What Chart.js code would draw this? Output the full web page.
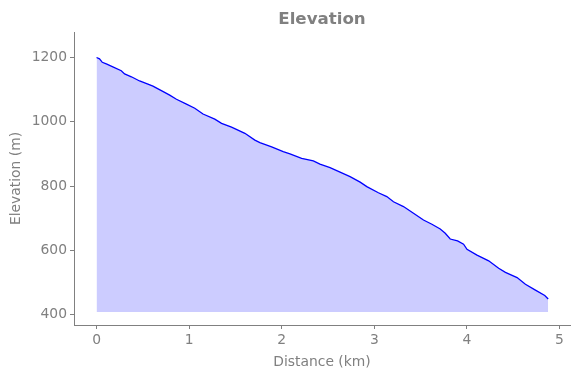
<!DOCTYPE html>
<html>
<head>
<meta charset="utf-8">
<script src="https://cdn.jsdelivr.net/npm/chart.js@4/dist/chart.umd.min.js"></script>
<style>
html,body{margin:0;padding:0;background:#fff;}
#wrap{width:580px;height:378px;position:relative;}
</style>
</head>
<body>
<div id="wrap"><canvas id="c" width="580" height="378"></canvas></div>
<script>
const distanceKm = [0.0,0.032,0.062,0.105,0.176,0.267,0.303,0.376,0.465,0.555,0.609,0.700,0.790,0.863,0.971,1.061,1.150,1.277,1.350,1.458,1.602,1.710,1.764,1.891,2.016,2.089,2.215,2.341,2.413,2.522,2.630,2.738,2.847,2.919,3.044,3.135,3.207,3.315,3.423,3.531,3.622,3.712,3.766,3.820,3.899,3.964,4.001,4.109,4.235,4.343,4.416,4.542,4.632,4.740,4.841,4.878];
const elevationM = [1200,1196,1185,1180,1171,1159,1149,1140,1127,1117,1111,1097,1083,1070,1055,1042,1024,1008,995,983,964,943,935,922,907,900,886,878,868,857,843,829,812,798,779,767,751,736,715,694,681,666,653,635,629,619,603,585,567,544,531,515,494,476,459,448];
const xTicks = [0,1,2,3,4,5];
const yTicks = [400,600,800,1000,1200];
const fillBase = 408;
const titleText = 'Elevation';
const xLabel = 'Distance (km)';
const yLabel = 'Elevation (m)';

const gray = '#808080';
const font = {family: "'DejaVu Sans'", size: 13.89};

new Chart(document.getElementById('c'), {
  type: 'line',
  data: {
    datasets: [{
      data: distanceKm.map((d, i) => ({x: d, y: elevationM[i]})),
      borderColor: '#0000ff',
      borderWidth: 1.3,
      backgroundColor: 'rgba(0,0,255,0.2)',
      fill: {value: fillBase},
      pointRadius: 0,
      tension: 0
    }]
  },
  options: {
    responsive: false,
    animation: false,
    devicePixelRatio: 1,
    layout: {padding: {left: 0, right: 10, top: 0, bottom: 0}},
    plugins: {
      legend: {display: false},
      tooltip: {enabled: false},
      title: {
        display: true, text: titleText, color: gray, fullSize: false,
        font: {family: "'DejaVu Sans'", size: 16.67, weight: 'bold'},
        padding: {top: 9.6, bottom: 2.4}
      }
    },
    scales: {
      x: {
        type: 'linear', min: -0.2435, max: 5.1135,
        afterBuildTicks: s => { s.ticks = xTicks.map(v => ({value: v})); },
        afterFit: s => { s.height = 53; },
        ticks: {color: gray, font: font, padding: 3, callback: v => String(v)},
        grid: {drawOnChartArea: false, drawTicks: true, tickLength: 4, color: gray, tickColor: gray},
        border: {display: true, color: gray, width: 1},
        title: {display: true, text: xLabel, color: gray, font: font, padding: {top: 0, bottom: 7.5}}
      },
      y: {
        type: 'linear', min: 367.3, max: 1279.4,
        afterBuildTicks: s => { s.ticks = yTicks.map(v => ({value: v})); },
        afterFit: s => { s.width = 74; },
        ticks: {color: gray, font: font, padding: 3, callback: v => String(v)},
        grid: {drawOnChartArea: false, drawTicks: true, tickLength: 4, color: gray, tickColor: gray},
        border: {display: true, color: gray, width: 1},
        title: {display: true, text: yLabel, color: gray, font: font, padding: {top: 8.5, bottom: 0}}
      }
    }
  }
});
</script>
</body>
</html>
